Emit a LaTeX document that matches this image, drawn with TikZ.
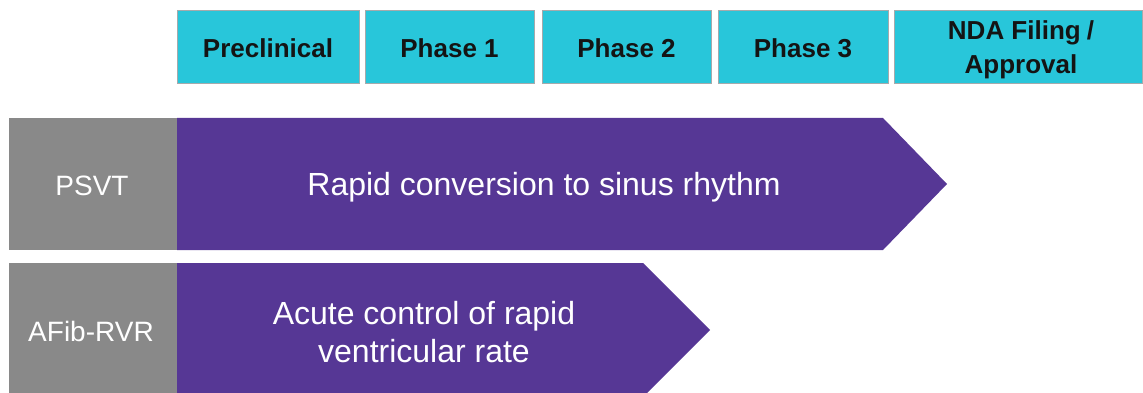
\documentclass[tikz,border=0pt]{standalone}
\usepackage{fontspec}
\setmainfont{Liberation Sans}
\definecolor{hdr}{RGB}{40,198,218}
\definecolor{hdrline}{RGB}{165,170,172}
\definecolor{purp}{RGB}{86,55,149}
\definecolor{graybox}{RGB}{137,137,137}
\tikzset{
  hdrbox/.style={fill=hdr, draw=hdrline, line width=0.8pt},
  hdrtext/.style={font=\fontsize{26}{34}\selectfont\bfseries, text=black!92, align=center, inner sep=0pt},
  lbltext/.style={font=\fontsize{28}{34}\selectfont, text=white, align=center, inner sep=0pt},
  bartext/.style={font=\fontsize{32}{38}\selectfont, text=white, align=center, inner sep=0pt}
}
\begin{document}
\begin{tikzpicture}[x=1pt,y=-1pt]
\useasboundingbox (0,0) rectangle (1143,393);
% header boxes
\draw[hdrbox] (177,10) rectangle (359,83);
\draw[hdrbox] (365,10) rectangle (534,83);
\draw[hdrbox] (542,10) rectangle (711,83);
\draw[hdrbox] (718,10) rectangle (888,83);
\draw[hdrbox] (894,10) rectangle (1142,83);
\node[hdrtext] (pre) at (268,48) {Preclinical};
\node[hdrtext] (p1) at (449.5,48) {Phase 1};
\node[hdrtext] (p2) at (626.5,48) {Phase 2};
\node[hdrtext] (p3) at (803,48) {Phase 3};
\node[hdrtext] (nda) at (1021,50) {NDA Filing\hspace{6pt}/\\Approval};
% row 1
\fill[graybox] (9,118) rectangle (177,250);
\fill[purp] (177,118) -- (883,118) -- (947,184) -- (883,250) -- (177,250) -- cycle;
\node[lbltext] (psvt) at (92,186) {PSVT};
\node[bartext] (rapid) at (544,187) {Rapid conversion to sinus rhythm};
% row 2
\fill[graybox] (9,263) rectangle (177,397);
\fill[purp] (177,263) -- (643,263) -- (710,330) -- (643,397) -- (177,397) -- cycle;
\node[lbltext] (afib) at (91,331) {AFib-RVR};
\node[bartext] (acute) at (424,332) {Acute control of rapid\\ventricular rate};
\end{tikzpicture}
\end{document}
